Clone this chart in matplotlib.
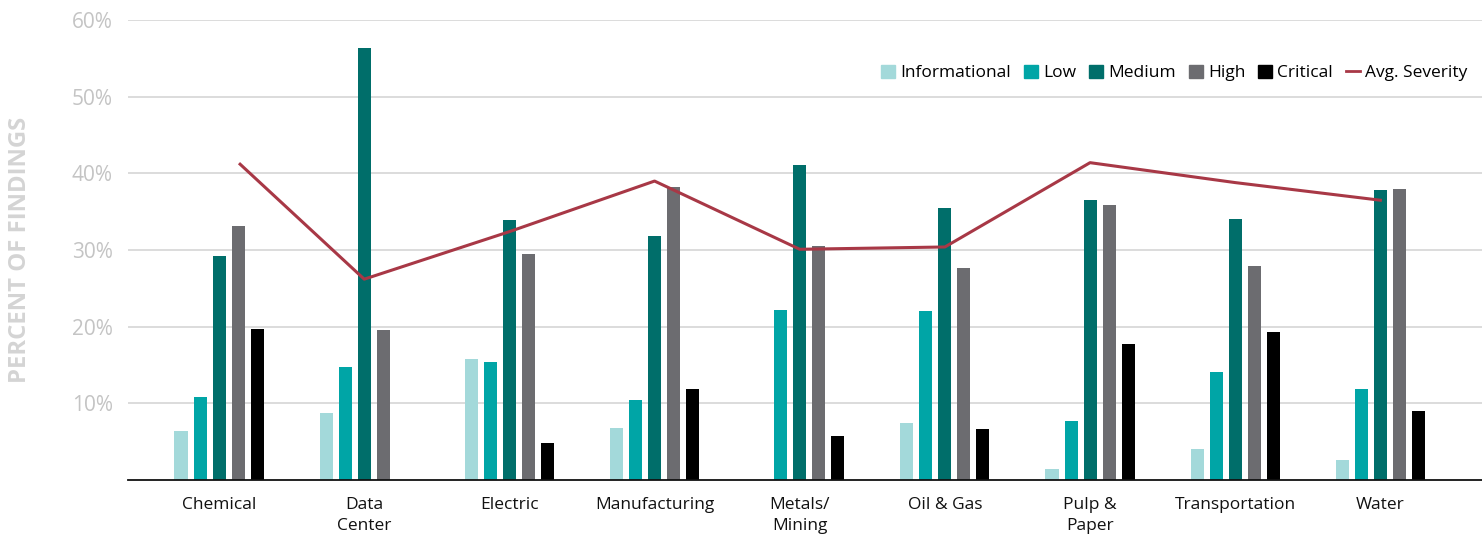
import numpy as np
from matplotlib import pyplot as plt
from matplotlib.lines import Line2D
import matplotlib.patches as mpatches

plt.rcParams['font.family'] = ['Open Sans', 'DejaVu Sans']

sectors = ['Chemical', 'Data\nCenter', 'Electric', 'Manufacturing', 'Metals/\nMining',
           'Oil & Gas', 'Pulp &\nPaper', 'Transportation', 'Water']
informational = [6.4, 8.7, 15.8, 6.8, 0.0, 7.4, 1.4, 4.0, 2.6]
low = [10.8, 14.7, 15.4, 10.4, 22.2, 22.0, 7.7, 14.1, 11.9]
medium = [29.2, 56.3, 33.9, 31.8, 41.1, 35.5, 36.5, 34.0, 37.8]
high = [33.1, 19.6, 29.5, 38.2, 30.5, 27.7, 35.9, 27.9, 38.0]
critical = [19.7, 0.0, 4.8, 11.9, 5.7, 6.6, 17.7, 19.3, 9.0]
avg_severity = [41.2, 26.2, 32.4, 39.0, 30.1, 30.4, 41.4, 38.8, 36.5]

series = [('Informational', informational, '#a3d9da'),
          ('Low', low, '#00a5a6'),
          ('Medium', medium, '#006e6a'),
          ('High', high, '#6c6c70'),
          ('Critical', critical, '#000000')]

x = np.arange(len(sectors))
step = 0.131
width = 0.09

fig = plt.figure(figsize=(14.82, 5.36), dpi=100)
ax = fig.add_axes([0.0864, 0.1045, 0.9136, 0.858])

for i, (name, vals, col) in enumerate(series):
    ax.bar(x + (i - 2) * step, vals, width=width, color=col, zorder=2)

# the original line starts a little right of the first group centre
line_x = x.astype(float)
line_x[0] += 0.145
ax.plot(line_x, avg_severity, color='#a83846', linewidth=2.2, zorder=3)

ax.set_xlim(-0.627, 8.70)
ax.set_ylim(0, 60)
ax.set_yticks([10, 20, 30, 40, 50, 60])
ax.set_yticklabels(['10%', '20%', '30%', '40%', '50%', '60%'], fontsize=15, color='#c4c4c4')
ax.set_xticks(x)
ax.set_xticklabels(sectors, fontsize=12.5, color='#111111', linespacing=1.45)
ax.tick_params(axis='x', length=0, pad=12)
ax.tick_params(axis='y', length=0, pad=11)
ax.yaxis.grid(True, color='#d9d9d9', linewidth=1.3, zorder=0)
ax.set_axisbelow(True)

for s in ['top', 'right', 'left']:
    ax.spines[s].set_visible(False)
ax.spines['bottom'].set_color('#111111')
ax.spines['bottom'].set_linewidth(1.3)

fig.text(0.0135, 0.534, 'PERCENT OF FINDINGS', rotation=90, ha='center', va='center',
         fontsize=17.2, fontweight='bold', color='#d4d4d4')

handles = [mpatches.Patch(color=col, label=name) for name, vals, col in series]
handles.append(Line2D([0], [0], color='#a83846', linewidth=2, label='Avg. Severity'))
ax.legend(handles=handles, loc='upper right', bbox_to_anchor=(1.001, 0.937), ncol=6,
          frameon=False, fontsize=12.5, handlelength=0.8, handleheight=0.8,
          handletextpad=0.3, columnspacing=0.75)

plt.savefig('out.png', dpi=100)
